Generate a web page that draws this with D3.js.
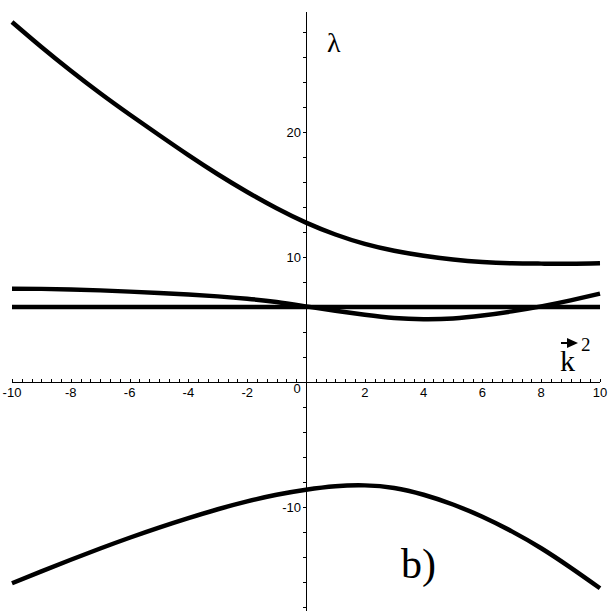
<!DOCTYPE html>
<html><head><meta charset="utf-8">
<script src="https://cdn.jsdelivr.net/npm/d3@7"></script>
<style>html,body{margin:0;padding:0;background:#fff;}svg{display:block;}</style>
</head><body>
<script>
const kValues = [-10,-9,-8,-7,-6,-5,-4,-3,-2,-1,0,1,2,3,4,5,6,7,8,9,10];
const lambdaTop = [28.8,26.8,24.9,23.1,21.4,19.76,18.15,16.62,15.2,13.9,12.75,11.8,11.05,10.5,10.1,9.8,9.6,9.5,9.47,9.46,9.5];
const lambdaFlat = [6,6,6,6,6,6,6,6,6,6,6,6,6,6,6,6,6,6,6,6,6];
const lambdaMid = [7.47,7.45,7.4,7.33,7.23,7.12,7.0,6.85,6.66,6.4,6.05,5.7,5.38,5.12,5.02,5.08,5.32,5.65,6.05,6.53,7.07];
const lambdaBottom = [-16.1,-15.15,-14.22,-13.32,-12.46,-11.65,-10.89,-10.18,-9.55,-9.02,-8.62,-8.34,-8.27,-8.48,-9.02,-9.8,-10.78,-11.95,-13.3,-14.85,-16.5];
const xTickLabels = [-10,-8,-6,-4,-2,0,2,4,6,8,10];
const yTickLabels = [-10,10,20];

const W = 611, H = 611;
const svg = d3.select("body").append("svg").attr("width", W).attr("height", H);
const x = d3.scaleLinear().domain([-10, 10]).range([12, 600]);
const y = d3.scaleLinear().domain([0, 20]).range([382, 132]);

// x axis
const gx = svg.append("g");
gx.append("line").attr("x1", x(-10)).attr("x2", x(10)).attr("y1", y(0) + 0.5).attr("y2", y(0) + 0.5)
  .attr("stroke", "#000").attr("stroke-width", 1);
const minorX = d3.range(-30, 31).map(i => i / 3);
gx.selectAll("line.mt").data(minorX).join("line").attr("class", "mt")
  .attr("x1", d => Math.round(x(d)) + 0.5).attr("x2", d => Math.round(x(d)) + 0.5)
  .attr("y1", y(0)).attr("y2", y(0) - 3).attr("stroke", "#000").attr("stroke-width", 1);
gx.selectAll("text").data(xTickLabels).join("text")
  .attr("x", d => d === 0 ? x(0) - 9 : x(d))
  .attr("y", d => d === 0 ? y(0) + 11 : y(0) + 15)
  .attr("text-anchor", "middle")
  .attr("font-family", "Liberation Sans, Arial, sans-serif").attr("font-size", 13)
  .attr("fill", "#000").text(d => d);

// y axis
const gy = svg.append("g");
gy.append("line").attr("x1", x(0) + 0.5).attr("x2", x(0) + 0.5).attr("y1", 12).attr("y2", H)
  .attr("stroke", "#000").attr("stroke-width", 1);
const minorY = d3.range(-18, 30, 2);
gy.selectAll("line.mt").data(minorY).join("line").attr("class", "mt")
  .attr("x1", x(0) - 3).attr("x2", x(0))
  .attr("y1", d => Math.round(y(d)) + 0.5).attr("y2", d => Math.round(y(d)) + 0.5)
  .attr("stroke", "#000").attr("stroke-width", 1);
gy.selectAll("text").data(yTickLabels).join("text")
  .attr("x", x(0) - 5).attr("y", d => y(d) + 5)
  .attr("text-anchor", "end")
  .attr("font-family", "Liberation Sans, Arial, sans-serif").attr("font-size", 13)
  .attr("fill", "#000").text(d => d);

// curves
const line = d3.line().x((d, i) => x(kValues[i])).y(d => y(d)).curve(d3.curveNatural);
[lambdaTop, lambdaFlat, lambdaMid, lambdaBottom].forEach(s => {
  svg.append("path").attr("d", line(s)).attr("fill", "none")
    .attr("stroke", "#000").attr("stroke-width", 4.5).attr("stroke-linejoin", "round");
});

// labels
svg.append("text").attr("x", 327).attr("y", 52)
  .attr("font-family", "Liberation Serif, Times New Roman, serif").attr("font-size", 28)
  .attr("fill", "#000").text("λ");
svg.append("text").attr("x", 560).attr("y", 371)
  .attr("font-family", "Liberation Serif, Times New Roman, serif").attr("font-size", 30)
  .attr("fill", "#000").text("k");
svg.append("text").attr("x", 581).attr("y", 351)
  .attr("font-family", "Liberation Serif, Times New Roman, serif").attr("font-size", 19)
  .attr("fill", "#000").text("2");
// arrow over k
svg.append("line").attr("x1", 561).attr("x2", 574).attr("y1", 343).attr("y2", 343)
  .attr("stroke", "#000").attr("stroke-width", 2);
svg.append("path").attr("d", "M567,338 L578,343 L567,348 Z").attr("fill", "#000");
svg.append("text").attr("x", 401).attr("y", 578)
  .attr("font-family", "Liberation Serif, Times New Roman, serif").attr("font-size", 42)
  .attr("fill", "#000").text("b)");
</script>
</body></html>
